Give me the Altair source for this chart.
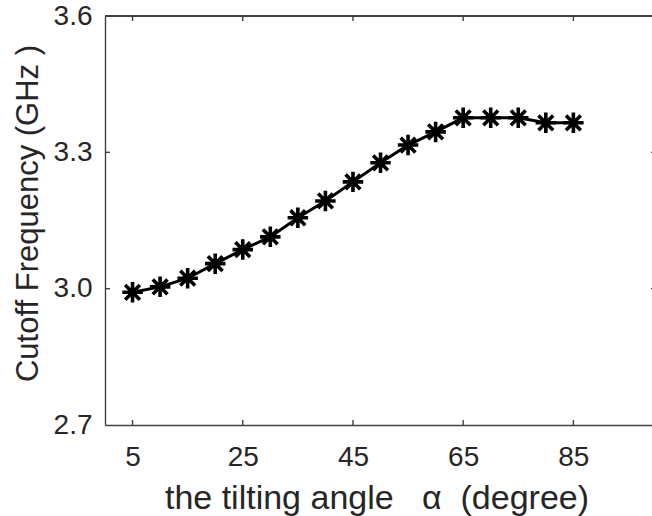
import altair as alt
import pandas as pd

# data
angles = [5, 10, 15, 20, 25, 30, 35, 40, 45, 50, 55, 60, 65, 70, 75, 80, 85]
freqs = [2.992, 3.004, 3.023, 3.055, 3.086, 3.114, 3.156, 3.193, 3.235,
         3.277, 3.316, 3.345, 3.376, 3.376, 3.376, 3.365, 3.365]
x_ticks = [5, 25, 45, 65, 85]
y_ticks = [2.7, 3.0, 3.3, 3.6]
y_inner_ticks = [3.0, 3.3]

W, H = 547, 409
FONT = "Liberation Sans, Arial, sans-serif"
TXT = "#262626"
AX = "#404040"
NB = "\u00a0"

df = pd.DataFrame({"angle": angles, "freq": freqs})
xt = pd.DataFrame({"angle": x_ticks})
yt = pd.DataFrame({"freq": y_inner_ticks})

xscale = alt.Scale(domain=[0, 99.27], nice=False, zero=False)
yscale = alt.Scale(domain=[2.7, 3.6], nice=False, zero=False)

xaxis = alt.Axis(
    values=x_ticks, ticks=False, grid=False, labelFontSize=28, labelFont=FONT,
    labelColor=TXT, labelPadding=18, domainColor=AX, domainWidth=1.4,
    title="the tilting angle" + NB * 3 + "α" + NB * 2 + "(degree)",
    titleFont=FONT, titleFontSize=34, titleFontWeight="normal", titleColor=TXT,
    titleX=271.5, titleY=83, titleBaseline="alphabetic", titleAlign="center",
)
yaxis = alt.Axis(
    values=y_ticks, format=".1f", ticks=False, grid=False, labelFontSize=28,
    labelFont=FONT, labelColor=TXT, labelPadding=13, domainColor=AX, domainWidth=1.4,
    title="Cutoff Frequency (GHz )", titleFont=FONT, titleFontSize=31,
    titleFontWeight="normal", titleColor=TXT, titleAngle=270,
    titleX=-68, titleY=197, titleBaseline="alphabetic", titleAlign="center",
)

STAR = "M-1,0L1,0M0,-1L0,1M-0.72,-0.72L0.72,0.72M-0.72,0.72L0.72,-0.72"

line = alt.Chart(df).mark_line(color="black", strokeWidth=3).encode(
    x=alt.X("angle:Q", scale=xscale, axis=xaxis),
    y=alt.Y("freq:Q", scale=yscale, axis=yaxis),
)
points = alt.Chart(df).mark_point(
    shape=STAR, filled=False, color="black", strokeWidth=3.6, size=420, opacity=1
).encode(x="angle:Q", y="freq:Q")

tick_style = dict(color=AX, strokeWidth=1.4)
bottom_ticks = alt.Chart(xt).mark_rule(**tick_style).encode(
    x="angle:Q", y=alt.value(H), y2=alt.value(H - 5))
top_ticks = alt.Chart(xt).mark_rule(**tick_style).encode(
    x="angle:Q", y=alt.value(0), y2=alt.value(5))
left_ticks = alt.Chart(yt).mark_rule(**tick_style).encode(
    y="freq:Q", x=alt.value(0), x2=alt.value(5))
right_ticks = alt.Chart(yt).mark_rule(**tick_style).encode(
    y="freq:Q", x=alt.value(W - 1), x2=alt.value(W + 4))
top_line = alt.Chart(xt).mark_rule(**tick_style).encode(
    x=alt.value(0), x2=alt.value(W + 5), y=alt.value(0))

chart = alt.layer(
    top_line, bottom_ticks, top_ticks, left_ticks, right_ticks, line, points
).properties(
    width=W, height=H,
    autosize=alt.AutoSizeParams(type="none"),
    padding={"left": 105, "top": 16, "right": 0, "bottom": 91},
    background="white",
).configure_view(strokeWidth=0)

chart.save("out.html", embed_options={"renderer": "svg", "actions": False})
